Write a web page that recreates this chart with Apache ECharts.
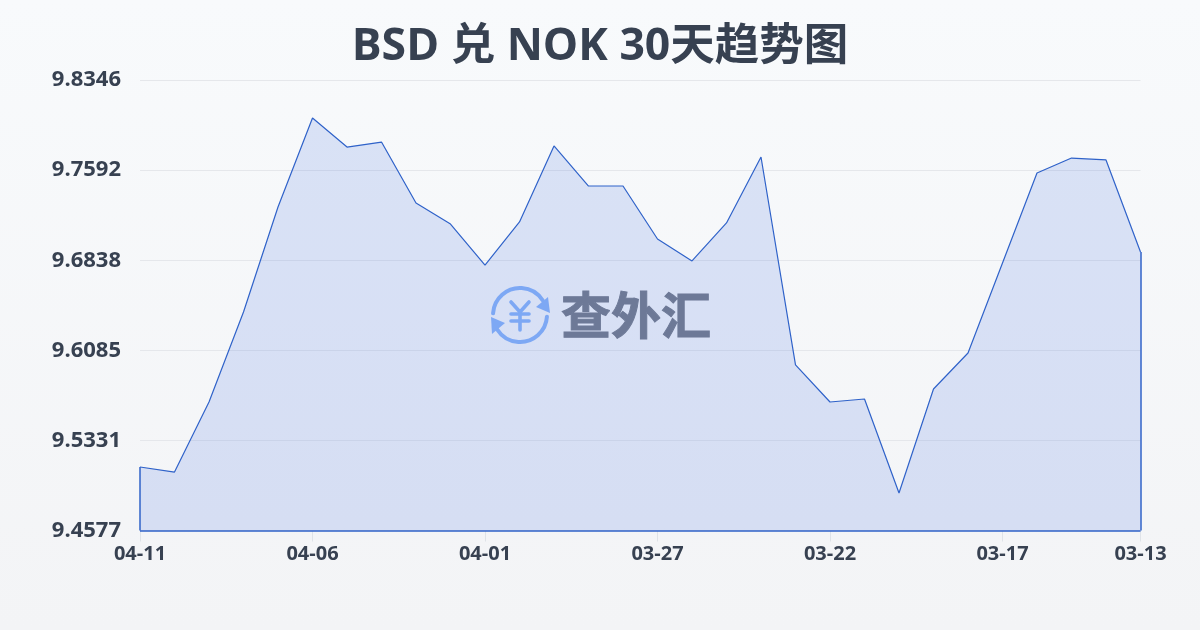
<!DOCTYPE html>
<html><head><meta charset="utf-8">
<style>html,body{margin:0;padding:0;width:1200px;height:630px;overflow:hidden}#c{width:1200px;height:630px}</style>
<script src="https://cdn.jsdelivr.net/npm/echarts@6/dist/echarts.min.js"></script>
</head><body><div id="c"></div>
<script>
const titleText = 'BSD 兑 NOK 30天趋势图';
const watermarkText = '查外汇';
const categories = ['04-11','04-10','04-09','04-08','04-07','04-06','04-05','04-04','04-03','04-02','04-01','03-31','03-30','03-29','03-28','03-27','03-26','03-25','03-24','03-23','03-22','03-21','03-20','03-19','03-18','03-17','03-16','03-15','03-14','03-13'];
const values = [9.5108,9.5066,9.5652,9.6405,9.7283,9.8028,9.7785,9.7827,9.7317,9.7141,9.6798,9.7158,9.7794,9.7459,9.7459,9.7016,9.6832,9.7150,9.7702,9.5962,9.5652,9.5677,9.4891,9.5761,9.6062,9.6815,9.7568,9.7693,9.7677,9.6907];
const yMin = 9.4577, yMax = 9.8346;
const yTicks = [9.4577,9.5331,9.6085,9.6838,9.7592,9.8346];
const xLabelIndexes = [0,5,10,15,20,25,29];
const font = '"Open Sans","Noto Sans CJK SC",sans-serif';
const last = categories.length - 1;
const chart = echarts.init(document.getElementById('c'), null, {renderer:'canvas'});
const lineColor = '#2f62c9';
const wm = {
  stroke:{stroke:'#8ab4f8',lineWidth:4,lineCap:'round',fill:null},
  yen:{stroke:'#8ab4f8',lineWidth:3.6,lineCap:'round',fill:null}
};
chart.setOption({
  animation:false,
  backgroundColor:new echarts.graphic.LinearGradient(0,0,0,1,[{offset:0,color:'#f8fafc'},{offset:1,color:'#f3f4f6'}]),
  title:{text:titleText,left:'center',top:20,textStyle:{fontFamily:font,fontSize:44.5,fontWeight:'bold',color:'#374151'}},
  grid:{left:140,right:59.5,top:80,bottom:99.5,containLabel:false},
  xAxis:{type:'category',boundaryGap:false,data:categories,
    axisLine:{show:false},
    axisTick:{show:true,length:11,lineStyle:{color:'#dfe3e8',width:1},interval:i=>xLabelIndexes.includes(i)},
    axisLabel:{interval:i=>xLabelIndexes.includes(i),margin:14,fontFamily:font,fontSize:20,fontWeight:'bold',color:'#374151',hideOverlap:false},
    splitLine:{show:false}},
  yAxis:{type:'value',min:yMin,max:yMax,
    axisLine:{show:false},axisTick:{show:false,customValues:yTicks},
    axisLabel:{customValues:yTicks,formatter:v=>v.toFixed(4),margin:19,fontFamily:font,fontSize:22,fontWeight:'bold',color:'#374151'},
    splitLine:{show:true,lineStyle:{color:'#e5e7eb',width:1}}},
  series:[{type:'line',data:values,symbol:'none',smooth:false,
    lineStyle:{color:lineColor,width:1.2},
    areaStyle:{color:'rgba(64,105,225,0.16)',opacity:1},
    markLine:{silent:true,symbol:'none',label:{show:false},animation:false,lineStyle:{color:lineColor,width:1.5,type:'solid'},
      data:[
        [{xAxis:categories[0],yAxis:yMin},{xAxis:categories[0],yAxis:values[0]}],
        [{xAxis:categories[0],yAxis:yMin},{xAxis:categories[last],yAxis:yMin}],
        [{xAxis:categories[last],yAxis:yMin},{xAxis:categories[last],yAxis:values[last]}]
      ]}
  }],
  graphic:{elements:[
    {type:'group',z:50,silent:true,children:[
      {type:'arc',shape:{cx:520,cy:315,r:27,startAngle:Math.PI*1.02,endAngle:Math.PI*1.82},style:wm.stroke},
      {type:'arc',shape:{cx:520,cy:315,r:27,startAngle:Math.PI*0.02,endAngle:Math.PI*0.82},style:wm.stroke},
      {type:'polygon',shape:{points:[[548,297],[550,313],[536,307]]},style:{fill:'#8ab4f8'}},
      {type:'polygon',shape:{points:[[491,317],[505,323],[492,334]]},style:{fill:'#8ab4f8'}},
      {type:'polyline',shape:{points:[[511,302],[520,312],[529,302]]},style:wm.yen},
      {type:'line',shape:{x1:511,y1:314,x2:529,y2:314},style:wm.yen},
      {type:'line',shape:{x1:511,y1:321,x2:529,y2:321},style:wm.yen},
      {type:'line',shape:{x1:520,y1:312,x2:520,y2:330},style:wm.yen},
      {type:'text',style:{text:watermarkText,x:636,y:315,align:'center',verticalAlign:'middle',font:'bold 50px "Noto Sans CJK SC"',fill:'#777d8a',stroke:'#777d8a',lineWidth:1}}
    ]}
  ]}
});
</script></body></html>
